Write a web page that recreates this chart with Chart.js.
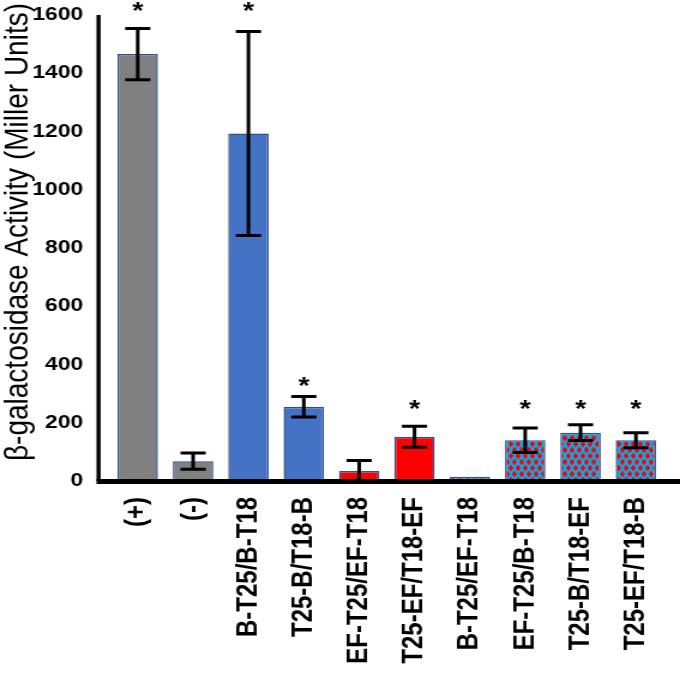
<!DOCTYPE html>
<html>
<head>
<meta charset="utf-8">
<script src="https://cdn.jsdelivr.net/npm/chart.js@4.4.1/dist/chart.umd.min.js"></script>
<style>
    html, body { margin: 0; padding: 0; background: #fff; overflow: hidden; }
    /* the source figure is stretched horizontally, so the canvas is too */
    #activityChart { display: block; transform: scaleX(1.1993); transform-origin: 0 0; }
</style>
</head>
<body>
<canvas id="activityChart" width="567" height="677"></canvas>
<script>
// Data
const categories = ['(+)', '(-)', 'B-T25/B-T18', 'T25-B/T18-B', 'EF-T25/EF-T18', 'T25-EF/T18-EF',
                    'B-T25/EF-T18', 'EF-T25/B-T18', 'T25-B/T18-EF', 'T25-EF/T18-B'];
const activity = [1466, 68, 1193, 255, 34, 152, 15, 140, 166, 140];
const errors = [88, 28, 350, 35, 36, 36, 0, 42, 27, 26];
const starLevels = [1635, null, 1635, 347, null, 269, null, 269, 269, 269];
const groups = ['control', 'control', 'B', 'B', 'EF', 'EF', 'mixed', 'mixed', 'mixed', 'mixed'];

const FONT = "'Liberation Sans', Arial, sans-serif";

// cyan background with red diamonds
function diamondPattern() {
    const c = document.createElement('canvas');
    c.width = 6;
    c.height = 12;
    const g = c.getContext('2d');
    g.fillStyle = '#00B0F0';
    g.fillRect(0, 0, 6, 12);
    g.fillStyle = '#FF0000';
    [[0, 0], [6, 0], [0, 12], [6, 12], [3, 6]].forEach(([cx, cy]) => {
        g.beginPath();
        g.moveTo(cx - 2.2, cy);
        g.lineTo(cx, cy - 3.5);
        g.lineTo(cx + 2.2, cy);
        g.lineTo(cx, cy + 3.5);
        g.closePath();
        g.fill();
    });
    return g.createPattern(c, 'repeat');
}

const groupFill = {
    control: '#808080',
    B: '#4472C4',
    EF: '#FF0000',
    mixed: diamondPattern()
};

// error bars and significance stars
const errorBars = {
    id: 'errorBars',
    afterDatasetsDraw(chart) {
        const ctx = chart.ctx;
        const y = chart.scales.y;
        const bars = chart.getDatasetMeta(0).data;
        ctx.save();
        ctx.strokeStyle = '#000';
        ctx.fillStyle = '#000';
        ctx.lineWidth = 3;
        bars.forEach((bar, i) => {
            if (errors[i] > 0) {
                const top = y.getPixelForValue(activity[i] + errors[i]);
                const bot = y.getPixelForValue(activity[i] - errors[i]);
                ctx.beginPath();
                ctx.moveTo(bar.x, top);
                ctx.lineTo(bar.x, bot);
                ctx.moveTo(bar.x - 10.5, top);
                ctx.lineTo(bar.x + 10.5, top);
                ctx.moveTo(bar.x - 10.5, bot);
                ctx.lineTo(bar.x + 10.5, bot);
                ctx.stroke();
            }
            if (starLevels[i] !== null) {
                ctx.font = 'bold 24px ' + FONT;
                ctx.textAlign = 'center';
                ctx.textBaseline = 'alphabetic';
                ctx.fillText('*', bar.x, y.getPixelForValue(starLevels[i]) + 14);
            }
        });
        ctx.restore();
    }
};

// thick axis lines, the y axis sits a little left of the first category
const axisLines = {
    id: 'axisLines',
    afterDatasetsDraw(chart) {
        const {ctx, chartArea} = chart;
        const y0 = chart.scales.y.getPixelForValue(0);
        const axisX = chartArea.left - 9.6;
        ctx.save();
        ctx.fillStyle = '#000';
        ctx.fillRect(axisX - 1.7, chartArea.top, 3.4, y0 - chartArea.top);
        ctx.fillRect(axisX - 1.7, y0 - 2, chart.width - axisX + 2, 5);
        ctx.restore();
    }
};

// y axis title, drawn by hand because it runs past the top of the plot
const yTitle = {
    id: 'yTitle',
    afterDraw(chart) {
        const {ctx, chartArea} = chart;
        ctx.save();
        ctx.translate(15, (chartArea.top + chartArea.bottom) / 2 - 16);
        ctx.rotate(-Math.PI / 2);
        ctx.font = '28px ' + FONT;
        ctx.fillStyle = '#000';
        ctx.textAlign = 'center';
        ctx.textBaseline = 'middle';
        ctx.fillText('β-galactosidase Activity (Miller Units)', 0, 0);
        ctx.restore();
    }
};

const ctx = document.getElementById('activityChart').getContext('2d');
new Chart(ctx, {
    type: 'bar',
    data: {
        labels: categories,
        datasets: [{
            data: activity,
            backgroundColor: groups.map(g => groupFill[g]),
            borderColor: '#2F528F',
            borderWidth: 1.5,
            barPercentage: 0.73,
            categoryPercentage: 1
        }]
    },
    options: {
        responsive: false,
        animation: false,
        layout: {
            padding: { left: 27, top: 15, right: 13.7, bottom: 13.3 }
        },
        plugins: {
            legend: { display: false },
            tooltip: { enabled: false }
        },
        scales: {
            x: {
                grid: { display: false, drawTicks: false },
                border: { display: false },
                // Chart.js reserves the tick padding twice; keep only one
                afterFit: scale => {
                    scale.height -= scale.options.ticks.padding;
                    scale.paddingLeft = 0;
                    scale.paddingRight = 0;
                },
                ticks: {
                    color: '#000',
                    autoSkip: false,
                    maxRotation: 90,
                    minRotation: 90,
                    padding: 16,
                    font: { family: FONT, size: 24, weight: 'bold' }
                }
            },
            y: {
                min: 0,
                max: 1600,
                grid: { display: false, drawTicks: false },
                border: { display: false },
                afterFit: scale => {
                    scale.width -= scale.options.ticks.padding;
                    scale.paddingTop = 0;
                    scale.paddingBottom = 0;
                },
                ticks: {
                    stepSize: 200,
                    color: '#000',
                    padding: 22.5,
                    callback: v => String(v),
                    font: { family: FONT, size: 19, weight: 'bold' }
                }
            }
        }
    },
    plugins: [errorBars, axisLines, yTitle]
});
</script>
</body>
</html>
